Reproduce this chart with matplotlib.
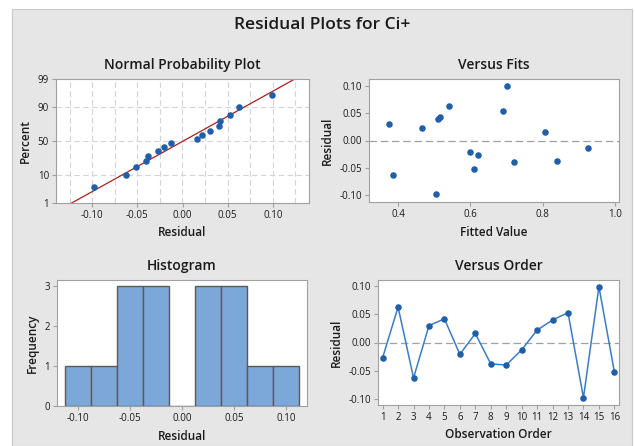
import matplotlib
matplotlib.use("Agg")
import matplotlib.pyplot as plt
from matplotlib.patches import Rectangle
from statistics import NormalDist
import numpy as np

plt.rcParams['font.family'] = ['Open Sans', 'DejaVu Sans']

# Residuen (Beobachtungsreihenfolge 1..16) und angepasste Werte
order = list(range(1, 17))
resid = [-0.027, 0.063, -0.063, 0.030, 0.042, -0.021, 0.016, -0.038,
         -0.040, -0.013, 0.022, 0.040, 0.053, -0.098, 0.099, -0.052]
fits = [0.62, 0.54, 0.385, 0.375, 0.515, 0.60, 0.805, 0.84,
        0.72, 0.925, 0.465, 0.51, 0.69, 0.505, 0.70, 0.61]

pct_ticks = [1, 10, 50, 90, 99]
hist_edges = [-0.1125, -0.0875, -0.0625, -0.0375, -0.0125,
              0.0125, 0.0375, 0.0625, 0.0875, 0.1125]

blue = "#1f5fa8"
bg = "#e6e6e6"
spine_c = "#a0a0a0"
txt = "#1a1a1a"

fig = plt.figure(figsize=(6.35, 4.46), dpi=100)
fig.patches.append(Rectangle((12/635, 0), 620/635, (446-9)/446,
                             transform=fig.transFigure, facecolor=bg,
                             edgecolor="#c8c8c8", lw=0.8, zorder=-10))

W, H = 635.0, 446.0


def box(l, t, r, b):
    return [l/W, (H-b)/H, (r-l)/W, (b-t)/H]


def style(ax):
    for s in ax.spines.values():
        s.set_color(spine_c)
        s.set_linewidth(0.8)
    ax.tick_params(labelsize=7, colors=spine_c, labelcolor=txt, length=3,
                   width=0.8, pad=2)


nd = NormalDist()
tw = "semibold"

# Normal Probability Plot
ax1 = fig.add_axes(box(56, 79, 309, 203))
style(ax1)
r_sorted = np.sort(resid)
n = len(r_sorted)
pp = [(i - 0.3) / (n + 0.4) for i in range(1, n+1)]
zz = [nd.inv_cdf(p) for p in pp]
mu = np.mean(resid)
sd = np.std(resid, ddof=1)
zlim = nd.inv_cdf(0.99)
for xg in np.arange(-0.125, 0.126, 0.025):
    ax1.axvline(xg, color="#d4d4d4", ls=(0, (5, 3)), lw=0.8, zorder=0)
for pg in [10, 50, 90]:
    ax1.axhline(nd.inv_cdf(pg/100), color="#d4d4d4", ls=(0, (5, 3)), lw=0.8, zorder=0)
ax1.plot([mu - zlim*sd, mu + zlim*sd], [-zlim, zlim], color="#a82020", lw=0.9)
ax1.plot(r_sorted, zz, 'o', color=blue, ms=3.7)
ax1.set_xlim(-0.14, 0.14)
ax1.set_ylim(-zlim, zlim)
ax1.set_yticks([nd.inv_cdf(p/100) for p in pct_ticks])
ax1.set_yticklabels([str(p) for p in pct_ticks])
ax1.set_xticks([-0.10, -0.05, 0.0, 0.05, 0.10])
ax1.set_xticklabels(["-0.10", "-0.05", "0.00", "0.05", "0.10"])
ax1.set_xlabel("Residual", fontsize=8.5, color=txt, fontweight=tw)
ax1.set_ylabel("Percent", fontsize=8.5, color=txt, fontweight=tw)
ax1.set_title("Normal Probability Plot", fontsize=10, color=txt, pad=7, fontweight=tw)

# Versus Fits
ax2 = fig.add_axes(box(369, 79, 619, 202))
style(ax2)
ax2.axhline(0, color="#a0a0a0", ls=(0, (6, 3)), lw=0.9, zorder=0)
ax2.plot(fits, resid, 'o', color=blue, ms=3.7)
ax2.set_xlim(0.32, 1.01)
ax2.set_ylim(-0.112, 0.112)
ax2.set_xticks([0.4, 0.6, 0.8, 1.0])
ax2.set_xticklabels(["0.4", "0.6", "0.8", "1.0"])
ax2.set_yticks([-0.10, -0.05, 0.0, 0.05, 0.10])
ax2.set_yticklabels(["-0.10", "-0.05", "0.00", "0.05", "0.10"])
ax2.set_xlabel("Fitted Value", fontsize=8.5, color=txt, fontweight=tw)
ax2.set_ylabel("Residual", fontsize=8.5, color=txt, fontweight=tw)
ax2.set_title("Versus Fits", fontsize=10, color=txt, pad=7, fontweight=tw)

# Histogram
ax3 = fig.add_axes(box(57, 280, 307, 406))
style(ax3)
ax3.hist(resid, bins=hist_edges, color="#7ba7d9", edgecolor="#5a5a5a", lw=1)
ax3.set_xlim(-0.12, 0.12)
ax3.set_ylim(0, 3.15)
ax3.set_xticks([-0.10, -0.05, 0.0, 0.05, 0.10])
ax3.set_xticklabels(["-0.10", "-0.05", "0.00", "0.05", "0.10"])
ax3.set_yticks([0, 1, 2, 3])
ax3.set_xlabel("Residual", fontsize=8.5, color=txt, fontweight=tw)
ax3.set_ylabel("Frequency", fontsize=8.5, color=txt, fontweight=tw)
ax3.set_title("Histogram", fontsize=10, color=txt, pad=7, fontweight=tw)

# Versus Order
ax4 = fig.add_axes(box(378, 280, 619, 405))
style(ax4)
ax4.axhline(0, color="#a0a0a0", ls=(0, (6, 3)), lw=0.9, zorder=0)
ax4.plot(order, resid, '-', color="#3c7cc4", lw=1.1)
ax4.plot(order, resid, 'o', color=blue, ms=3.7)
ax4.set_xlim(0.7, 16.3)
ax4.set_ylim(-0.111, 0.111)
ax4.set_xticks(order)
ax4.set_yticks([-0.10, -0.05, 0.0, 0.05, 0.10])
ax4.set_yticklabels(["-0.10", "-0.05", "0.00", "0.05", "0.10"])
ax4.set_xlabel("Observation Order", fontsize=8.5, color=txt, fontweight=tw)
ax4.set_ylabel("Residual", fontsize=8.5, color=txt, fontweight=tw)
ax4.set_title("Versus Order", fontsize=10, color=txt, pad=7, fontweight=tw)

fig.text(322/W, 1 - 25/H, "Residual Plots for Ci+", ha="center", va="center",
         fontsize=12.5, color=txt, fontweight=tw)

fig.savefig("out.png", dpi=100)
